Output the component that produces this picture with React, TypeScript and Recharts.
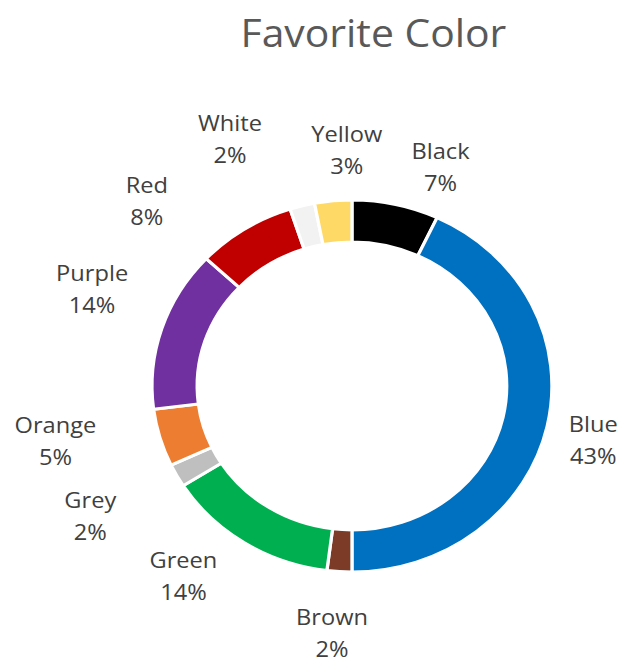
import React from 'react';
import { PieChart, Pie, Cell } from 'recharts';

const categories = ['Black', 'Blue', 'Brown', 'Green', 'Grey', 'Orange', 'Purple', 'Red', 'White', 'Yellow'];
const shares = [7, 43, 2, 14, 2, 5, 14, 8, 2, 3];
const sliceColors = ['#000000', '#0070C0', '#7B3B26', '#00B050', '#BFBFBF', '#ED7D31', '#7030A0', '#C00000', '#F2F2F2', '#FFD966'];
// label nudges (layout tweaks, Excel "best fit" placement)
const labelNudgeX = [32, -1, -4, -33, -41, -54, -22, -67, -56, 17];
const labelNudgeY = [6, 4, 16, -5, 19, -9, -26, 10, -23, -6];

const data = categories.map((name, i) => ({ name, value: shares[i] }));

const STRETCH = 1.075;
const W = 619 / STRETCH;
const H = 662;
const RAD = Math.PI / 180;
const FONT = '"Open Sans", "Noto Sans", sans-serif';

const renderLabel = (props: any) => {
  const { cx, cy, midAngle, outerRadius, index } = props;
  const r = outerRadius + 45;
  const x = cx + r * Math.cos(-midAngle * RAD) + labelNudgeX[index];
  const y = cy + r * Math.sin(-midAngle * RAD) + labelNudgeY[index];
  return (
    <text
      key={`lbl-${index}`}
      x={x}
      y={y}
      textAnchor="middle"
      fill="#404040"
      fontSize={22}
      fontFamily={FONT}
    >
      <tspan x={x} y={y - 8}>{categories[index]}</tspan>
      <tspan x={x} y={y + 24}>{`${shares[index]}%`}</tspan>
    </text>
  );
};

export default function App() {
  return (
    <div style={{ position: 'absolute', left: 0, top: 0, width: 619, height: 662, overflow: 'hidden', background: '#fff' }}>
      <div style={{ position: 'relative', width: W, height: H, transform: `scaleX(${STRETCH})`, transformOrigin: '0 0' }}>
        <div
          style={{
            position: 'absolute',
            left: 347.4 - 200,
            width: 400,
            top: 13,
            textAlign: 'center',
            fontFamily: FONT,
            fontSize: 38,
            lineHeight: '38px',
            color: '#595959',
          }}
        >
          Favorite Color
        </div>
        <PieChart width={W} height={H} margin={{ top: 0, right: 0, bottom: 0, left: 0 }}>
          <Pie
            data={data}
            dataKey="value"
            nameKey="name"
            cx={327.4}
            cy={386}
            innerRadius={144}
            outerRadius={186}
            startAngle={90}
            endAngle={-270}
            stroke="#ffffff"
            strokeWidth={3}
            label={renderLabel}
            labelLine={false}
            isAnimationActive={false}
          >
            {data.map((d, i) => (
              <Cell key={d.name} fill={sliceColors[i]} />
            ))}
          </Pie>
        </PieChart>
      </div>
    </div>
  );
}
